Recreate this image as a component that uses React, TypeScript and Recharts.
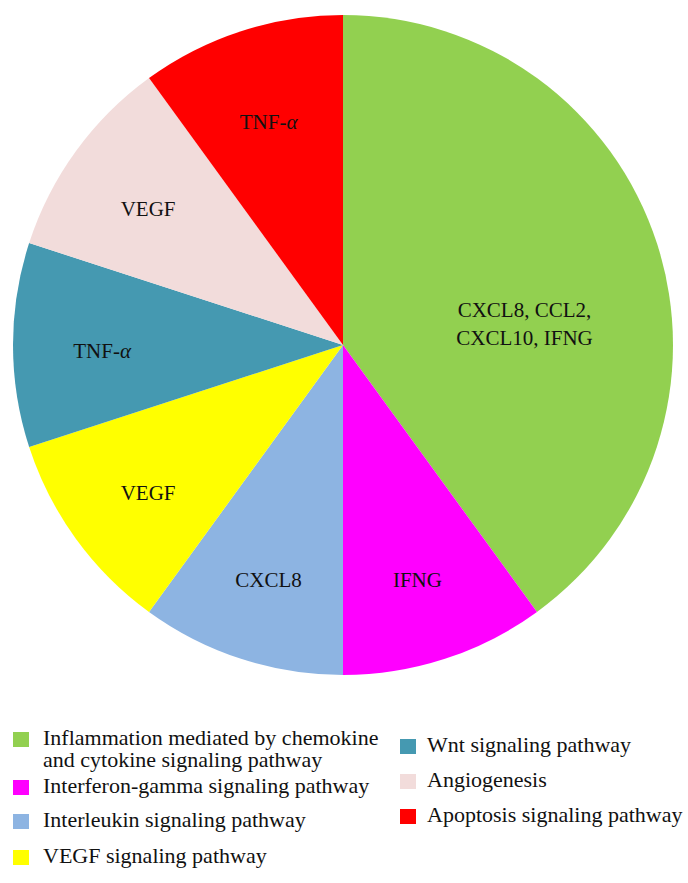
import { PieChart, Pie, Cell } from "recharts";

const categories = [
  "Inflammation mediated by chemokine and cytokine signaling pathway",
  "Interferon-gamma signaling pathway",
  "Interleukin signaling pathway",
  "VEGF signaling pathway",
  "Wnt signaling pathway",
  "Angiogenesis",
  "Apoptosis signaling pathway",
];
const geneCounts = [4, 1, 1, 1, 1, 1, 1];
const geneLabels = [
  ["CXCL8, CCL2,", "CXCL10, IFNG"],
  ["IFNG"],
  ["CXCL8"],
  ["VEGF"],
  ["TNF-α"],
  ["VEGF"],
  ["TNF-α"],
];
const COLORS = ["#92D050", "#FF00FF", "#8DB4E2", "#FFFF00", "#4599B1", "#F2DCDB", "#FF0000"];

// legend columns: indexes into categories, with text baselines
const leftColumn = [0, 1, 2, 3];
const rightColumn = [4, 5, 6];
const leftBaselines = [745, 793, 827, 863];
const rightBaselines = [752, 787, 822];

const FONT = "'Liberation Serif', 'Times New Roman', serif";
const RADIAN = Math.PI / 180;

function renderWord(text: string) {
  const parts = text.split("α");
  if (parts.length === 1) return text;
  return (
    <>
      {parts[0]}
      <tspan fontStyle="italic">α</tspan>
      {parts[1]}
    </>
  );
}

const renderLabel = (props: any) => {
  const { cx, cy, midAngle, outerRadius, index, percent } = props;
  let x: number;
  let y: number;
  if (percent > 0.3) {
    x = cx + outerRadius * 0.55;
    y = cy - outerRadius * 0.064;
  } else {
    const r = outerRadius * 0.73;
    x = cx + r * Math.cos(-midAngle * RADIAN);
    y = cy + r * Math.sin(-midAngle * RADIAN) + 6;
  }
  const lines = geneLabels[index];
  const lh = 28;
  return (
    <text x={x} y={y} textAnchor="middle" fontFamily={FONT} fontSize={21} fill="#111">
      {lines.map((l, i) => (
        <tspan key={i} x={x} dy={i === 0 ? 7 - ((lines.length - 1) * lh) / 2 : lh}>
          {renderWord(l)}
        </tspan>
      ))}
    </text>
  );
};

function LegendRow({ idx, baseline, markerX, textX, width }: any) {
  return (
    <>
      <div
        style={{
          position: "absolute",
          left: markerX,
          top: baseline - 13,
          width: 16,
          height: 15,
          background: COLORS[idx],
        }}
      />
      <div
        style={{
          position: "absolute",
          left: textX,
          top: baseline - 18,
          width,
          fontFamily: FONT,
          fontSize: 22,
          lineHeight: "22px",
          color: "#111",
        }}
      >
        {categories[idx]}
      </div>
    </>
  );
}

export default function App() {
  const data = categories.map((name, i) => ({ name, value: geneCounts[i] }));

  return (
    <div style={{ position: "absolute", left: 0, top: 0, width: 688, height: 883, background: "#fff" }}>
      <PieChart width={688} height={690} margin={{ top: 0, right: 0, bottom: 0, left: 0 }}>
        <Pie
          data={data}
          dataKey="value"
          nameKey="name"
          cx={343}
          cy={345}
          outerRadius={330}
          startAngle={90}
          endAngle={-270}
          stroke="none"
          label={renderLabel}
          labelLine={false}
          isAnimationActive={false}
        >
          {data.map((_, i) => (
            <Cell key={`cell-${i}`} fill={COLORS[i]} />
          ))}
        </Pie>
      </PieChart>
      {leftColumn.map((idx, i) => (
        <LegendRow key={idx} idx={idx} baseline={leftBaselines[i]} markerX={13} textX={43} width={350} />
      ))}
      {rightColumn.map((idx, i) => (
        <LegendRow key={idx} idx={idx} baseline={rightBaselines[i]} markerX={400} textX={427} width={270} />
      ))}
    </div>
  );
}
